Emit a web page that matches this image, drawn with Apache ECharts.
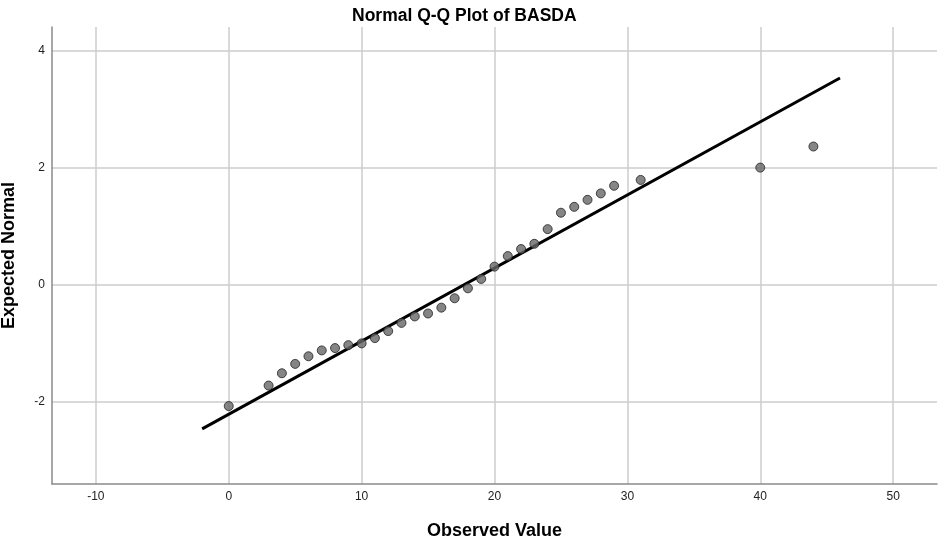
<!DOCTYPE html>
<html>
<head>
<meta charset="utf-8">
<title>Normal Q-Q Plot of BASDA</title>
<script src="https://cdn.jsdelivr.net/npm/echarts@6/dist/echarts.min.js"></script>
<style>
  html, body { margin: 0; padding: 0; background: #fff; }
  #chart { width: 938px; height: 544px; }
</style>
</head>
<body>
<div id="chart"></div>
<script>
// Observed BASDA scores and their expected normal quantiles
const observed = [0, 3, 4, 5, 6, 7, 8, 9, 10, 11, 12, 13, 14, 15, 16, 17, 18, 19, 20,
                  21, 22, 23, 24, 25, 26, 27, 28, 29, 31, 40, 44];
const expected = [-2.07, -1.72, -1.51, -1.35, -1.22, -1.12, -1.08, -1.03, -1.00, -0.91,
                  -0.79, -0.65, -0.54, -0.49, -0.39, -0.23, -0.06, 0.10, 0.31,
                  0.49, 0.61, 0.70, 0.95, 1.23, 1.33, 1.45, 1.56, 1.69, 1.79, 2.00, 2.36];

// Reference line endpoints
const lineX = [-2, 46];
const lineY = [-2.46, 3.53];

// Tick positions
const xTicks = [-10, 0, 10, 20, 30, 40, 50];
const yTicks = [-2, 0, 2, 4];

const font = '"Liberation Sans", Arial, sans-serif';
const chart = echarts.init(document.getElementById('chart'), null, { renderer: 'canvas' });

chart.setOption({
  animation: false,
  backgroundColor: '#ffffff',
  title: {
    text: 'Normal Q-Q Plot of BASDA',
    left: 347,
    top: 2,
    textStyle: { fontFamily: font, fontSize: 17.5, fontWeight: 'bold', color: '#000' }
  },
  grid: { left: 52, right: 1, top: 27, bottom: 60, containLabel: false, outerBoundsMode: 'none' },
  xAxis: {
    type: 'value',
    min: -13.3,
    max: 53.3,
    name: 'Observed Value',
    nameLocation: 'middle',
    nameGap: 38,
    nameTextStyle: { fontFamily: font, fontSize: 18, fontWeight: 'bold', color: '#000' },
    axisLine: { show: true, onZero: false, lineStyle: { color: '#8a8a8a', width: 1.5 } },
    axisTick: { show: false, customValues: xTicks },
    axisLabel: { customValues: xTicks, fontFamily: font, fontSize: 12, color: '#222', margin: 7 },
    splitLine: { show: true, lineStyle: { color: '#cccccc', width: 1.5 } }
  },
  yAxis: {
    type: 'value',
    min: -3.4,
    max: 4.4,
    name: 'Expected Normal',
    nameLocation: 'middle',
    nameGap: 34,
    nameTextStyle: { fontFamily: font, fontSize: 18, fontWeight: 'bold', color: '#000' },
    axisLine: { show: true, onZero: false, lineStyle: { color: '#8a8a8a', width: 1.5 } },
    axisTick: { show: false, customValues: yTicks },
    axisLabel: { customValues: yTicks, fontFamily: font, fontSize: 12, color: '#222', margin: 7 },
    splitLine: { show: true, lineStyle: { color: '#cccccc', width: 1.5 } }
  },
  series: [
    {
      type: 'line',
      data: lineX.map((x, i) => [x, lineY[i]]),
      symbol: 'none',
      lineStyle: { color: '#000', width: 3 },
      z: 2,
      silent: true
    },
    {
      type: 'scatter',
      data: observed.map((x, i) => [x, expected[i]]),
      symbol: 'circle',
      symbolSize: 9,
      itemStyle: { color: '#666666', borderColor: '#222222', borderWidth: 1 },
      z: 3
    }
  ]
});
</script>
</body>
</html>
